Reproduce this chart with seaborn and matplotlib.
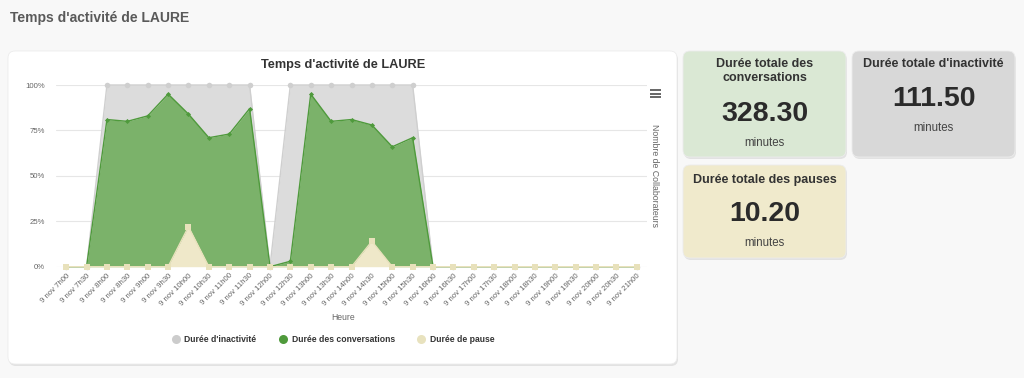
import numpy as np
import pandas as pd
import seaborn as sns
import matplotlib.pyplot as plt
from matplotlib.patches import FancyBboxPatch
from matplotlib.lines import Line2D

# Données (pourcentages)
heures = ['7h00', '7h30', '8h00', '8h30', '9h00', '9h30', '10h00', '10h30', '11h00', '11h30',
          '12h00', '12h30', '13h00', '13h30', '14h00', '14h30', '15h00', '15h30', '16h00', '16h30',
          '17h00', '17h30', '18h00', '18h30', '19h00', '19h30', '20h00', '20h30', '21h00']
categories = ['9 nov ' + h for h in heures]

pause = [0, 0, 0, 0, 0, 0, 22, 0, 0, 0, 0, 0, 0, 0, 0, 14, 0, 0, 0,
         0, 0, 0, 0, 0, 0, 0, 0, 0, 0]
conversations = [0, 0, 81, 80, 83, 95, 62, 71, 73, 87, 0, 3, 95, 80, 81, 64, 66, 71, 0,
                 0, 0, 0, 0, 0, 0, 0, 0, 0, 0]
inactivite = [0, 0, 19, 20, 17, 5, 16, 29, 27, 13, 0, 97, 5, 20, 19, 22, 34, 29, 0,
              0, 0, 0, 0, 0, 0, 0, 0, 0, 0]

totaux = {'conv': '328.30', 'inact': '111.50', 'pause': '10.20'}

df = pd.DataFrame({'x': np.arange(len(categories)), 'pause': pause,
                   'conv': conversations, 'inact': inactivite})
df['top_pause'] = df['pause']
df['top_conv'] = df['pause'] + df['conv']
df['top_inact'] = df['top_conv'] + df['inact']

sns.set_style('white')
plt.rcParams['font.family'] = ['Liberation Sans', 'DejaVu Sans']

W, H = 1024, 378
fig = plt.figure(figsize=(W / 100, H / 100), dpi=100)
fig.patch.set_facecolor('#f8f8f8')

# fond en pixels
bg = fig.add_axes([0, 0, 1, 1], zorder=0)
bg.set_xlim(0, W)
bg.set_ylim(H, 0)
bg.axis('off')

def carte(x0, y0, x1, y1, couleur):
    bg.add_patch(FancyBboxPatch((x0 + 1, y0 + 2), x1 - x0, y1 - y0,
                                boxstyle='round,pad=0,rounding_size=7',
                                fc='#e2e2e2', ec='none'))
    bg.add_patch(FancyBboxPatch((x0, y0), x1 - x0, y1 - y0,
                                boxstyle='round,pad=0,rounding_size=7',
                                fc=couleur, ec='#ececec', lw=0.6))

carte(8, 51, 677, 364, 'white')
carte(683, 51, 846, 157, '#dae8d4')
carte(852, 51, 1015, 157, '#d8d8d8')
carte(683, 165, 846, 258, '#f0eacc')

bg.text(10, 18, "Temps d'activité de LAURE", fontsize=10, fontweight='bold',
        color='#5a5a5a', va='center', ha='left')
bg.text(343, 65, "Temps d'activité de LAURE", fontsize=9.2, fontweight='bold',
        color='#333333', va='center', ha='center')
bg.text(343, 318, 'Heure', fontsize=6.2, color='#666666', va='center', ha='center')
bg.text(655, 176, 'Nombre de Collaborateurs', fontsize=6.3, color='#666666',
        va='center', ha='center', rotation=-90)
for yy in (90, 93.5, 97):
    bg.plot([650, 661], [yy, yy], color='#666666', lw=1.4, solid_capstyle='butt')

# cartes de totaux
kw_t = dict(fontsize=9, fontweight='bold', color='#333333', ha='center', va='center')
kw_n = dict(fontsize=20.5, fontweight='bold', color='#2b2b2b', ha='center', va='center')
kw_m = dict(fontsize=8.3, color='#444444', ha='center', va='center')

bg.text(764.5, 64, 'Durée totale des', **kw_t)
bg.text(764.5, 78, 'conversations', **kw_t)
bg.text(764.5, 114, totaux['conv'], **kw_n)
bg.text(764.5, 143, 'minutes', **kw_m)

bg.text(933.5, 64, "Durée totale d'inactivité", **kw_t)
bg.text(933.5, 99, totaux['inact'], **kw_n)
bg.text(933.5, 128, 'minutes', **kw_m)

bg.text(764.5, 180, 'Durée totale des pauses', **kw_t)
bg.text(764.5, 214, totaux['pause'], **kw_n)
bg.text(764.5, 243, 'minutes', **kw_m)

# graphique
x0, x1, yb, yt = 56, 647, 266.7, 85
ax = fig.add_axes([x0 / W, 1 - yb / H, (x1 - x0) / W, (yb - yt) / H], zorder=2)
ax.patch.set_alpha(0)

ax.fill_between(df['x'], df['top_conv'], df['top_inact'], color='#dcdcdc', lw=0, zorder=1)
ax.fill_between(df['x'], df['top_pause'], df['top_conv'], color='#7bb26a', lw=0, zorder=2)
ax.fill_between(df['x'], 0, df['top_pause'], color='#efe8c9', lw=0, zorder=3)

sns.lineplot(data=df, x='x', y='top_inact', ax=ax, color='#cfcfcf', lw=1,
             marker='o', markersize=4, markeredgewidth=0, zorder=4, clip_on=False)
sns.lineplot(data=df, x='x', y='top_conv', ax=ax, color='#4f9a3c', lw=1,
             marker='D', markersize=2.6, markeredgewidth=0, zorder=5, clip_on=False)
sns.lineplot(data=df, x='x', y='top_pause', ax=ax, color='#e8e1bb', lw=1,
             marker='s', markersize=4.2, markeredgewidth=0, zorder=6, clip_on=False)

ax.set_xlim(-0.5, len(categories) - 0.5)
ax.set_ylim(0, 100)
ax.set_yticks([0, 25, 50, 75, 100])
ax.set_yticklabels(['0%', '25%', '50%', '75%', '100%'], fontsize=5.6, color='#666666')
ax.set_xticks(df['x'])
ax.set_xticklabels(categories, rotation=45, ha='right', rotation_mode='anchor',
                   fontsize=5.6, color='#666666')
ax.tick_params(axis='x', length=0, pad=4)
ax.tick_params(axis='y', length=0, pad=8)
ax.grid(axis='y', color='#e6e6e6', lw=0.8, zorder=0)
ax.set_axisbelow(True)
ax.set_xlabel('')
ax.set_ylabel('')
for s in ax.spines.values():
    s.set_visible(False)

handles = [Line2D([], [], ls='none', marker='o', markersize=6.5, color=c, markeredgewidth=0)
           for c in ('#cccccc', '#4f9a3c', '#e8e2be')]
fig.legend(handles, ["Durée d'inactivité", 'Durée des conversations', 'Durée de pause'],
           loc='center', bbox_to_anchor=(333 / W, 1 - 340 / H), ncol=3, frameon=False,
           prop={'size': 6.2, 'weight': 'bold'}, labelcolor='#333333',
           handletextpad=0.5, columnspacing=2.6, handlelength=1)

fig.savefig('out.png', dpi=100, facecolor=fig.get_facecolor())
